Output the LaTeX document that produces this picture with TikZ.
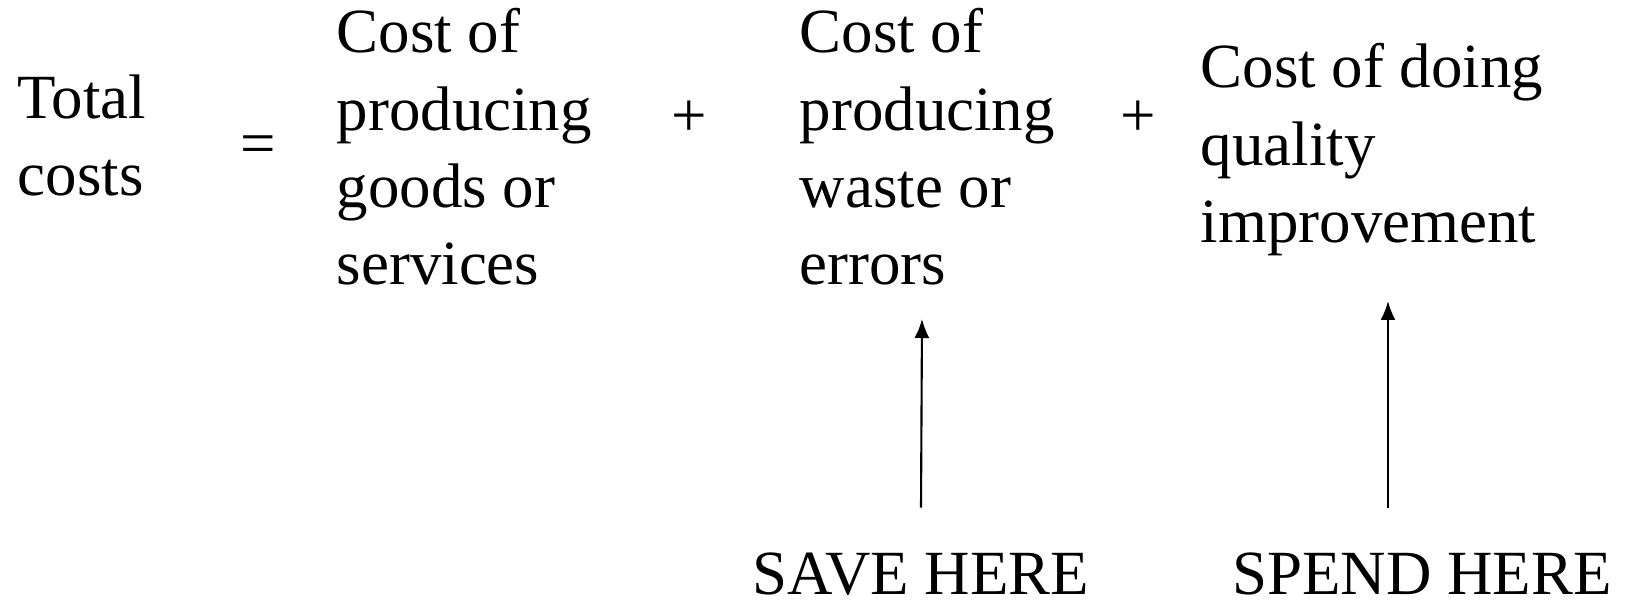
\documentclass[tikz,border=0pt]{standalone}
\usepackage{fontspec}
\setmainfont{Liberation Serif}
\usepackage{tikz}
\usetikzlibrary{arrows.meta,calc,positioning}
\tikzset{>={Latex[length=1.9mm,width=1.5mm]}}

\begin{document}
\begin{tikzpicture}
\tikzstyle{term}=[
    inner sep=0pt,
    align=left,
    anchor=north west,
    font=\fontsize{17.9}{22}\selectfont]
\tikzstyle{op}=[inner sep=0pt, font=\fontsize{17.9}{22}\selectfont]
\tikzstyle{note}=[inner sep=0pt, anchor=base, font=\fontsize{17.9}{22}\selectfont]
\useasboundingbox (0,0) rectangle (16.28,-6.01);
\node[term] (total) at (0.17,-0.74) {Total\\costs};
\node[op] (equals) at (2.58,-1.50) {=};
\node[term] (goods) at (3.36,-0.08) {Cost of\\producing\\goods or\\services};
\node[op] (plusA) at (6.89,-1.19) {+};
\node[term] (waste) at (7.99,-0.08) {Cost of\\producing\\waste or\\errors};
\node[op] (plusB) at (11.38,-1.19) {+};
\node[term] (quality) at (12.00,-0.43) {Cost of doing\\quality\\improvement};
\node[note] (save) at (9.21,-5.94) {SAVE HERE};
\node[note] (spend) at (14.22,-5.94) {SPEND HERE};
\draw[->,line width=0.6pt] ([yshift=4.4mm]save.north) -- ([xshift=0.01cm]save.north |- 0,-3.19);
\draw[->,line width=0.6pt] ([xshift=-3.4mm,yshift=4.4mm]spend.north) -- ([xshift=-3.4mm]spend.north |- 0,-3.01);
\end{tikzpicture}
\end{document}
